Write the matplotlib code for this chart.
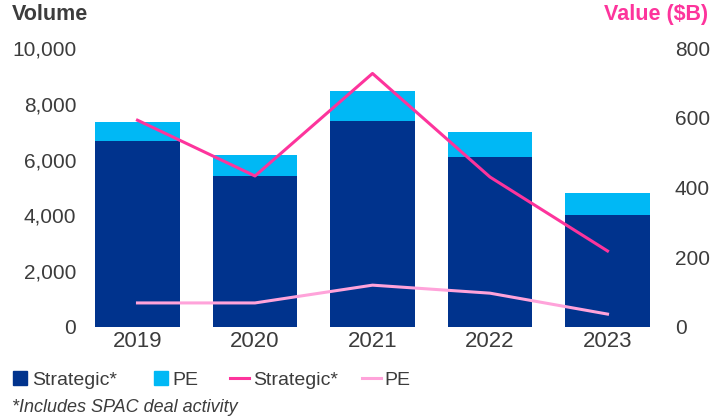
import matplotlib.pyplot as plt
from matplotlib.lines import Line2D

plt.rcParams['font.family'] = ['Liberation Sans', 'DejaVu Sans']

years = ["2019", "2020", "2021", "2022", "2023"]
vol_strategic = [6670, 5410, 7380, 6090, 4010]
vol_pe = [680, 750, 1080, 900, 790]
val_strategic = [593, 433, 727, 430, 218]
val_pe = [69, 69, 120, 97, 37]

dark_blue = "#00338D"
light_blue = "#00B8F5"
pink = "#FD349C"
light_pink = "#FFA3DA"
grey = "#3c3c3c"

W, H = 726, 418
fig = plt.figure(figsize=(W / 100, H / 100), dpi=100)
ax = fig.add_axes([84.6 / W, (H - 327) / H, 575.8 / W, 279 / H])
ax2 = ax.twinx()

x = list(range(len(years)))
ax.bar(x, vol_strategic, width=0.723, color=dark_blue, zorder=2)
ax.bar(x, vol_pe, width=0.723, bottom=vol_strategic, color=light_blue, zorder=2)

ax2.plot(x, val_strategic, color=pink, lw=2.2)
ax2.plot(x, val_pe, color=light_pink, lw=2.2)

ax.set_xlim(-0.45, 4.45)
ax.set_ylim(0, 10000)
ax2.set_ylim(0, 800)
ax.set_yticks(range(0, 10001, 2000))
ax.set_yticklabels([f"{v:,}" for v in range(0, 10001, 2000)])
ax2.set_yticks(range(0, 801, 200))
ax.set_xticks(x)
ax.set_xticklabels(years)

for a in (ax, ax2):
    for s in a.spines.values():
        s.set_visible(False)
    a.tick_params(length=0, labelsize=15, labelcolor=grey)
ax.tick_params(axis='x', labelsize=16, pad=3)
ax.tick_params(axis='y', pad=6)
ax2.tick_params(axis='y', pad=10.5)

fig.text(12 / W, 1 - 4 / H, "Volume", fontsize=15.5, fontweight='bold', color=grey,
         va='top', ha='left')
fig.text(708 / W, 1 - 4 / H, "Value ($B)", fontsize=15.5, fontweight='bold', color=pink,
         va='top', ha='right')

# legend entries, one per item so the spacing follows the reference
entries = [
    (Line2D([], [], marker='s', color=dark_blue, linestyle='none', markersize=10),
     "Strategic*", 13, 0.72, 0.26),
    (Line2D([], [], marker='s', color=light_blue, linestyle='none', markersize=10),
     "PE", 154, 0.72, 0.22),
    (Line2D([], [], color=pink, lw=2.2), "Strategic*", 230, 0.98, 0.2),
    (Line2D([], [], color=light_pink, lw=2.2), "PE", 362, 0.98, 0.15),
]
for h, lab, x0, hl, tp in entries:
    leg = fig.legend([h], [lab], loc='center left',
                     bbox_to_anchor=(x0 / W, 1 - 380 / H), frameon=False,
                     fontsize=14, handlelength=hl, handletextpad=tp,
                     borderpad=0, borderaxespad=0)
    for t in leg.get_texts():
        t.set_color(grey)

fig.text(12 / W, 1 - 407 / H, "*Includes SPAC deal activity", fontsize=13,
         style='italic', color=grey, va='center', ha='left')

fig.savefig("out.png", dpi=100)
